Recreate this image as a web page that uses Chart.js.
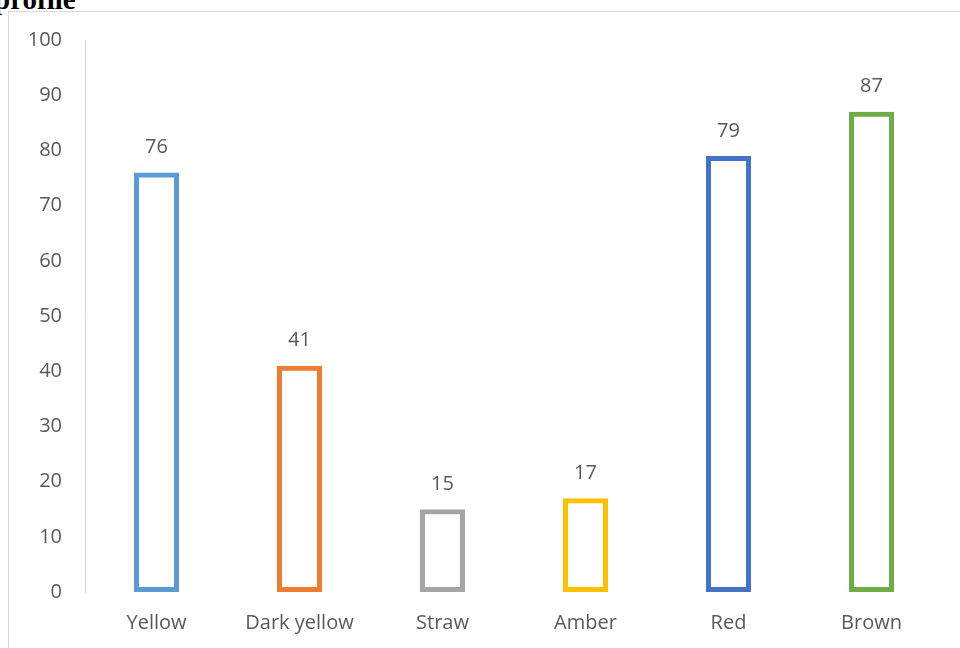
<!DOCTYPE html>
<html><head><meta charset="utf-8">
<script src="https://cdn.jsdelivr.net/npm/chart.js@4"></script>
<style>
html,body{margin:0;padding:0;background:#fff;overflow:hidden;}
#wrap{position:relative;width:960px;height:648px;}
#frame{position:absolute;left:8px;top:11px;width:960px;height:660px;border:1px solid #d9d9d9;box-sizing:border-box;}
#title{position:absolute;left:-6px;top:-17px;font-family:"Liberation Serif",serif;font-weight:bold;font-size:29px;color:#000;}
canvas{position:absolute;left:0;top:0;}
</style></head>
<body><div id="wrap"><div id="frame"></div><div id="title">profile</div><canvas id="c" width="960" height="648"></canvas></div>
<script>
const categories = ["Yellow","Dark yellow","Straw","Amber","Red","Brown"];
const values = [76,41,15,17,79,87];
const barColors = ["#5b9bd5","#ed7d31","#a5a5a5","#ffc000","#4472c4","#70ad47"];
const yTicks = [0,10,20,30,40,50,60,70,80,90,100];

const labelPlugin = {
  id:'labels',
  afterDatasetsDraw(chart){
    const ctx = chart.ctx;
    const meta = chart.getDatasetMeta(0);
    ctx.save();
    ctx.font = '20px "Open Sans"';
    ctx.fillStyle = '#595959';
    ctx.textAlign = 'center';
    ctx.textBaseline = 'middle';
    meta.data.forEach((bar,i)=>{
      ctx.fillText(String(values[i]), bar.x, bar.y - 25);
    });
    ctx.restore();
  }
};

new Chart(document.getElementById('c'),{
  type:'bar',
  data:{labels:categories,datasets:[{data:values,backgroundColor:'rgba(255,255,255,0)',borderColor:barColors,borderWidth:5,borderSkipped:false,barPercentage:0.315,categoryPercentage:1}]},
  options:{
    responsive:false,animation:false,
    layout:{padding:{top:40,right:17,left:0,bottom:0}},
    plugins:{legend:{display:false},tooltip:{enabled:false}},
    scales:{
      x:{grid:{display:false,drawTicks:false},border:{display:false},
         ticks:{color:'#595959',font:{family:'"Open Sans"',size:20},padding:19,maxRotation:0},
         afterFit(s){s.height=56;}},
      y:{min:0,max:100,grid:{display:false,drawTicks:false},border:{display:true,color:'#d9d9d9',width:1},
         afterBuildTicks(s){s.ticks=yTicks.map(v=>({value:v}));},
         ticks:{color:'#595959',font:{family:'"Open Sans"',size:20},padding:23},
         afterFit(s){s.width=85;}}
    }
  },
  plugins:[labelPlugin]
});
</script></body></html>
